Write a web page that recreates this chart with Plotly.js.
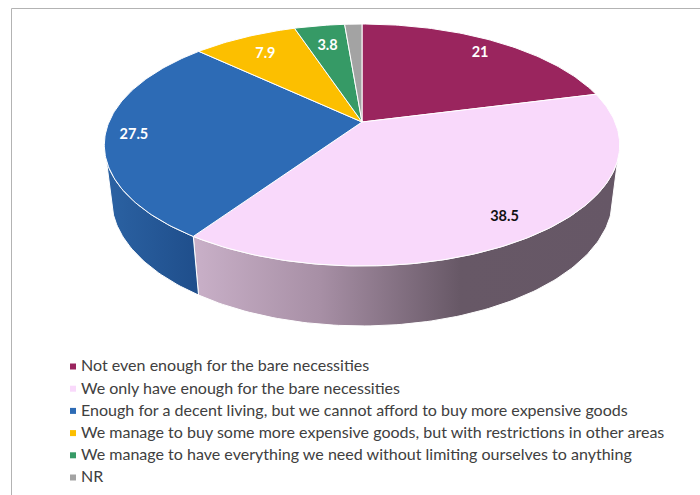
<!DOCTYPE html>
<html>
<head>
<meta charset="utf-8">
<script src="https://cdn.plot.ly/plotly-3.0.1.min.js"></script>
<style>html,body{margin:0;padding:0;background:#fff}#chart{width:700px;height:495px}</style>
</head>
<body>
<div id="chart"></div>
<script>
// Household income adequacy, shares in percent
const categories = [
  "Not even enough for the bare necessities",
  "We only have enough for the bare necessities",
  "Enough for a decent living, but we cannot afford to buy more expensive goods",
  "We manage to buy some more expensive goods, but with restrictions in other areas",
  "We manage to have everything we need without limiting ourselves to anything",
  "NR"
];
const values = [21, 38.5, 27.5, 7.9, 3.8, 1.3];
const valueLabels = ["21", "38.5", "27.5", "7.9", "3.8", ""];
const topColors = ["#9a255e", "#f9d9fb", "#2d6bb5", "#fcbf00", "#369a66", "#a3a3a3"];
const labelColors = ["#ffffff", "#111111", "#ffffff", "#ffffff", "#ffffff", "#ffffff"];

// Shaded rim of the slices that face the viewer
const rimShades = {
  1: [[0, "#c9b0c8"], [0.3, "#a78fa5"], [0.63, "#675866"], [1, "#665766"]],
  2: [[0, "#2b62a3"], [1, "#1f4e8b"]]
};

// Perspective camera for the tilted disc, in page pixels
const cam = {cx: 362, cy: 122, a: 253, b: 116.6, k: 0.19, depthScale: 1.027, drop: 54.1};
const rimFrom = 108, rimTo = 252;
const labelRadius = [0.86, 0.85, 0.89, 0.80, 0.78, 0.85];
const labelDrop = 2;
const legendX = 73, legendTextX = 81, legendTop = 366.5, legendStep = 22.2, legendTextDrop = 0.8;

function project(deg, r, lower) {
  const t = deg * Math.PI / 180;
  const u = r * Math.sin(t), v = r * Math.cos(t);
  const w = (lower ? cam.depthScale : 1) + cam.k * v;
  return [cam.cx + cam.a * u / w, cam.cy - (cam.b * v - (lower ? cam.drop : 0)) / w];
}

function arc(from, to, lower) {
  const pts = [], n = Math.max(2, Math.ceil(Math.abs(to - from)));
  for (let i = 0; i <= n; i++) pts.push(project(from + (to - from) * i / n, 1, lower));
  return pts;
}

const total = values.reduce((s, v) => s + v, 0);
let running = 0;
const slices = values.map(v => {
  const from = running / total * 360;
  running += v;
  return {from, to: running / total * 360};
});

const traces = [];

// Rim walls go in first so the disc top sits over them
slices.forEach((s, i) => {
  if (!rimShades[i]) return;
  const from = Math.max(s.from, rimFrom), to = Math.min(s.to, rimTo);
  const pts = arc(from, to, false).concat(arc(to, from, true));
  pts.push(pts[0]);
  traces.push({
    type: "scatter", mode: "lines", fill: "toself",
    x: pts.map(p => p[0]), y: pts.map(p => p[1]),
    line: {color: "#ffffff", width: 1},
    fillgradient: {type: "horizontal", colorscale: rimShades[i]},
    hoverinfo: "skip", showlegend: false
  });
});

// Disc top
slices.forEach((s, i) => {
  const pts = [project(0, 0, false)].concat(arc(s.from, s.to, false));
  pts.push(pts[0]);
  traces.push({
    type: "scatter", mode: "lines", fill: "toself",
    x: pts.map(p => p[0]), y: pts.map(p => p[1]),
    fillcolor: topColors[i],
    line: {color: "#ffffff", width: 1},
    name: categories[i], hoverinfo: "name", showlegend: false
  });
});

// Value labels
const labelPts = slices.map((s, i) => project((s.from + s.to) / 2, labelRadius[i], false));
traces.push({
  type: "scatter", mode: "text",
  x: labelPts.map(p => p[0]), y: labelPts.map(p => p[1] + labelDrop),
  text: valueLabels, textposition: "middle center",
  textfont: {family: "Lato, 'Open Sans', sans-serif", size: 14.5, weight: 700, color: labelColors},
  hoverinfo: "skip", showlegend: false
});

// Key below the disc: swatches, then their captions
const legendRows = categories.map((c, i) => legendTop + i * legendStep);
traces.push({
  type: "scatter", mode: "markers",
  x: categories.map(() => legendX), y: legendRows,
  marker: {symbol: "square", size: 6, color: topColors},
  hoverinfo: "skip", showlegend: false
});
traces.push({
  type: "scatter", mode: "text",
  x: categories.map(() => legendTextX), y: legendRows.map(r => r + legendTextDrop),
  text: categories, textposition: "middle right",
  textfont: {family: "Lato, 'Open Sans', sans-serif", size: 16.05, color: "#404040"},
  hoverinfo: "skip", showlegend: false
});

const layout = {
  width: 700, height: 495,
  margin: {l: 0, r: 0, t: 0, b: 0},
  paper_bgcolor: "#ffffff", plot_bgcolor: "#ffffff",
  showlegend: false,
  xaxis: {range: [0, 700], visible: false, fixedrange: true},
  yaxis: {range: [495, 0], visible: false, fixedrange: true},
  shapes: [
    {type: "line", xref: "paper", yref: "paper", x0: 11.5 / 700, x1: 1, y0: 1 - 8.5 / 495, y1: 1 - 8.5 / 495, line: {color: "#b3b3b3", width: 1}},
    {type: "line", xref: "paper", yref: "paper", x0: 11.5 / 700, x1: 11.5 / 700, y0: 0, y1: 1 - 8.5 / 495, line: {color: "#b3b3b3", width: 1}}
  ]
};

Plotly.newPlot("chart", traces, layout, {displayModeBar: false, staticPlot: true});
</script>
</body>
</html>
